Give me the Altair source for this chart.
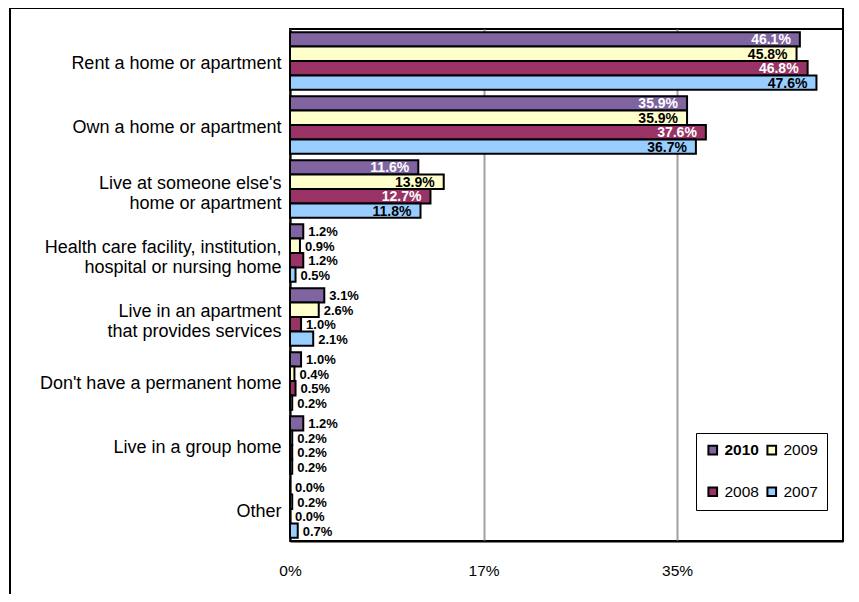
import altair as alt
import pandas as pd

categories = [
    "Rent a home or apartment",
    "Own a home or apartment",
    "Live at someone else's\nhome or apartment",
    "Health care facility, institution,\nhospital or nursing home",
    "Live in an apartment\nthat provides services",
    "Don't have a permanent home",
    "Live in a group home",
    "Other",
]
years = ["2010", "2009", "2008", "2007"]
v2010 = [46.1, 35.9, 11.6, 1.2, 3.1, 1.0, 1.2, 0.0]
v2009 = [45.8, 35.9, 13.9, 0.9, 2.6, 0.4, 0.2, 0.2]
v2008 = [46.8, 37.6, 12.7, 1.2, 1.0, 0.5, 0.2, 0.0]
v2007 = [47.6, 36.7, 11.8, 0.5, 2.1, 0.2, 0.2, 0.7]
colors = ["#8064A2", "#FFFFCC", "#993366", "#99CCFF"]
x_ticks = [0, 17.5, 35]

rows = []
for yr, vals in zip(years, [v2010, v2009, v2008, v2007]):
    for c, v in zip(categories, vals):
        rows.append({"category": c, "year": yr, "value": v})
df = pd.DataFrame(rows)

FONT = "Liberation Sans"

y_enc = alt.Y(
    "category:N",
    sort=categories,
    scale=alt.Scale(paddingInner=0.1, paddingOuter=0.05),
    axis=alt.Axis(
        title=None,
        labelExpr="split(datum.label, '\\n')",
        labelFontSize=18,
        labelFont=FONT,
        labelColor="black",
        labelPadding=9,
        labelLimit=0,
        labelLineHeight=20,
        labelOffset={"condition": {"test": "indexof(datum.value, '\\n') >= 0", "value": -5}, "value": 3},
        ticks=False,
        domainColor="black",
        domainWidth=2,
        grid=False,
    ),
)
yoff = alt.YOffset("year:N", sort=years, scale=alt.Scale(domain=years, paddingInner=0, paddingOuter=0))
x_enc = alt.X(
    "value:Q",
    scale=alt.Scale(domain=[0, 50], nice=False),
    axis=alt.Axis(
        title=None,
        values=x_ticks,
        labelExpr="floor(datum.value) + '%'",
        labelFontSize=15.5,
        labelFont=FONT,
        labelColor="black",
        labelPadding=22,
        labelFlush=False,
        ticks=False,
        domainColor="black",
        domainWidth=2,
        gridColor="#A0A0A0",
        gridWidth=2,
    ),
)

bars = alt.Chart(df).mark_bar(stroke="black", strokeWidth=2).encode(
    y=y_enc,
    yOffset=yoff,
    x=x_enc,
    color=alt.Color(
        "year:N",
        sort=years,
        scale=alt.Scale(domain=years, range=colors),
        legend=alt.Legend(
            title=None,
            orient="none",
            direction="horizontal",
            legendX=406,
            legendY=404,
            columns=2,
            symbolType="square",
            symbolSize=75,
            symbolStrokeColor="black",
            symbolStrokeWidth=2,
            labelFontSize=15.5,
            labelFont=FONT,
            labelColor="black",
            labelOffset=4,
            labelFontWeight=alt.ExprRef(expr="datum.label == '2010' ? 'bold' : 'normal'"),
            strokeColor="black",
            fillColor="white",
            padding=9,
            rowPadding=24,
            columnPadding=4,
        ),
    ),
)

base_text = alt.Chart(df).transform_calculate(label="format(datum.value, '.1f') + '%'")

inside = base_text.transform_filter("datum.value > 5").mark_text(
    align="right", baseline="middle", dx=-9, dy=1, fontSize=14, fontWeight="bold", font=FONT
).encode(
    y=alt.Y("category:N", sort=categories),
    yOffset=alt.YOffset("year:N", sort=years),
    x="value:Q",
    text="label:N",
    color=alt.condition("datum.year == '2010' || datum.year == '2008'", alt.value("white"), alt.value("black")),
)

outside = base_text.transform_filter("datum.value <= 5").mark_text(
    align="left", baseline="middle", dx=5, dy=1, fontSize=13, fontWeight="bold", font=FONT, color="black"
).encode(
    y=alt.Y("category:N", sort=categories),
    yOffset=alt.YOffset("year:N", sort=years),
    x="value:Q",
    text="label:N",
)

one = pd.DataFrame({"a": [0]})
frame_left = alt.Chart(one).mark_rule(color="black", strokeWidth=2).encode(
    x=alt.value(-280), y=alt.value(-21), y2=alt.value(565)
)
frame_top = alt.Chart(one).mark_rule(color="black", strokeWidth=2).encode(
    x=alt.value(-281), x2=alt.value(554), y=alt.value(-21)
)
frame_right = alt.Chart(one).mark_rule(color="black", strokeWidth=2).encode(
    x=alt.value(553), y=alt.value(-21), y2=alt.value(0)
)

chart = alt.layer(bars, inside, outside, frame_left, frame_top, frame_right).properties(
    width=553,
    height=512,
    autosize=alt.AutoSizeParams(type="none"),
    padding={"left": 282, "top": 21, "right": 8, "bottom": 53},
    background="white",
).configure_view(stroke="black", strokeWidth=2)

chart.save("out.html", embed_options={"renderer": "svg", "actions": False})
